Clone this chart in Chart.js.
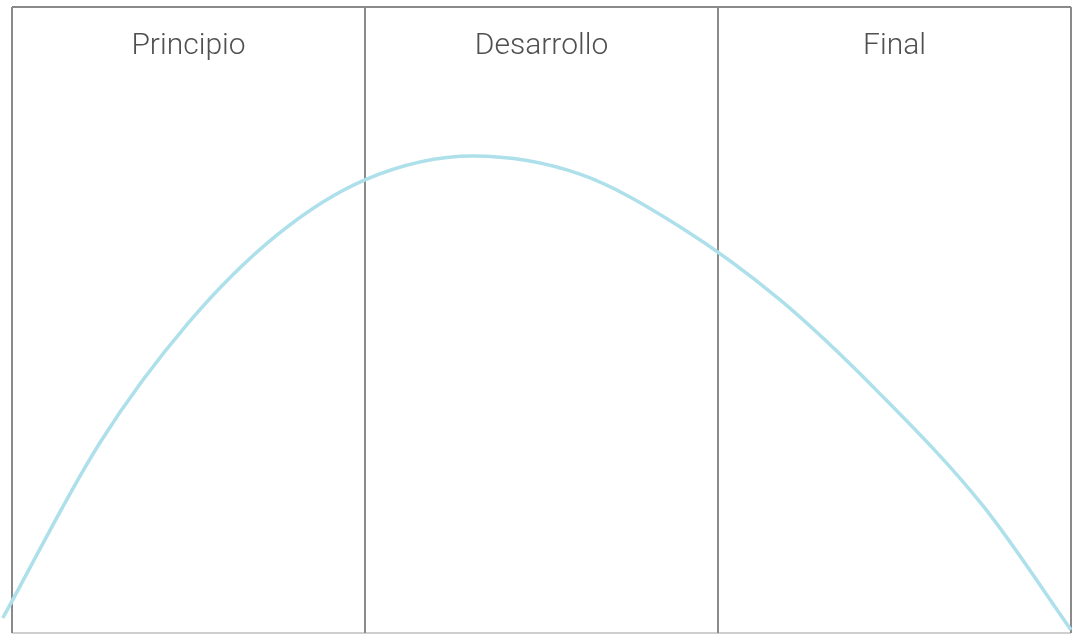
<!DOCTYPE html>
<html>
<head>
<meta charset="utf-8">
<script src="https://cdn.jsdelivr.net/npm/chart.js@4/dist/chart.umd.min.js"></script>
<style>
html,body{margin:0;padding:0;background:#fff;}
#wrap{width:1083px;height:634px;}
</style>
</head>
<body>
<div id="wrap"><canvas id="c" width="1083" height="634"></canvas></div>
<script>
const categories = ["Principio", "Desarrollo", "Final"];
const curveX = [-0.026, 0.249, 0.499, 0.751, 1.0, 1.306, 1.609, 1.892, 2.176, 2.459, 2.751, 3.0];
const curveY = [2.4, 30.4, 49.5, 63.6, 72.4, 76.2, 73.3, 64.9, 53.2, 38.2, 20.3, 0.5];

const panelPlugin = {
  id: 'panels',
  beforeDatasetsDraw(chart) {
    const {ctx, chartArea: a, scales: {x, y}} = chart;
    ctx.save();
    ctx.strokeStyle = '#cfcfcf';
    ctx.lineWidth = 2;
    ctx.beginPath();
    ctx.moveTo(a.left, y.getPixelForValue(0));
    ctx.lineTo(a.right, y.getPixelForValue(0));
    ctx.stroke();
    ctx.strokeStyle = '#8a8a8a';
    ctx.lineWidth = 2;
    ctx.beginPath();
    ctx.moveTo(x.getPixelForValue(0), y.getPixelForValue(100));
    ctx.lineTo(x.getPixelForValue(categories.length), y.getPixelForValue(100));
    ctx.stroke();
    for (let i = 0; i <= categories.length; i++) {
      const px = x.getPixelForValue(i);
      ctx.beginPath();
      ctx.moveTo(px, y.getPixelForValue(100));
      ctx.lineTo(px, y.getPixelForValue(0));
      ctx.stroke();
    }
    ctx.fillStyle = '#505050';
    ctx.font = '300 30px Roboto, "Noto Sans", sans-serif';
    ctx.textAlign = 'center';
    ctx.textBaseline = 'alphabetic';
    categories.forEach((c, i) => {
      ctx.fillText(c, x.getPixelForValue(i + 0.5), 54);
    });
    ctx.restore();
  }
};

new Chart(document.getElementById('c'), {
  type: 'scatter',
  data: {
    datasets: [{
      data: curveX.map((v, i) => ({x: v, y: curveY[i]})),
      showLine: true,
      borderColor: '#ade0ea',
      borderWidth: 3.5,
      pointRadius: 0,
      cubicInterpolationMode: 'monotone',
      clip: false,
      fill: false
    }]
  },
  options: {
    responsive: false,
    animation: false,
    layout: {padding: {left: 12, right: 12, top: 7, bottom: 1}},
    plugins: {legend: {display: false}, tooltip: {enabled: false}},
    scales: {
      x: {type: 'linear', min: 0, max: 3, display: false},
      y: {type: 'linear', min: 0, max: 100, display: false}
    }
  },
  plugins: [panelPlugin]
});
</script>
</body>
</html>
